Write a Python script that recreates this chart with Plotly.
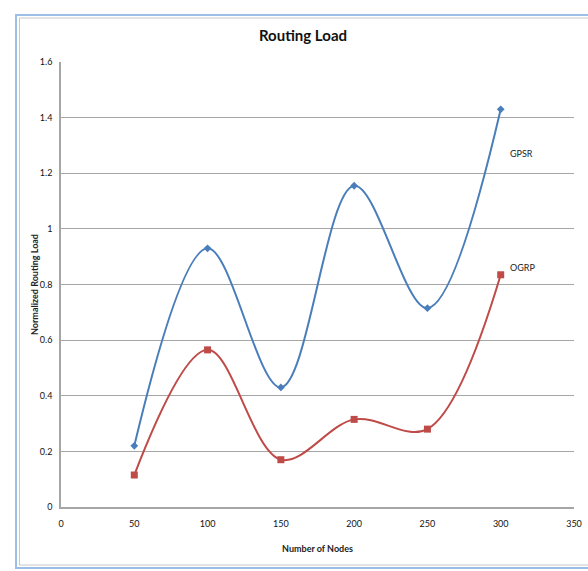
import plotly.graph_objects as go

nodes = [50, 100, 150, 200, 250, 300]
gpsr = [0.22, 0.93, 0.43, 1.155, 0.715, 1.43]
ogrp = [0.115, 0.565, 0.17, 0.315, 0.28, 0.835]
x_ticks = [0, 50, 100, 150, 200, 250, 300, 350]
y_ticks = [0, 0.2, 0.4, 0.6, 0.8, 1.0, 1.2, 1.4, 1.6]
y_tick_text = ["0", "0.2", "0.4", "0.6", "0.8", "1", "1.2", "1.4", "1.6"]

FONT = "Lato, Open Sans, sans-serif"

W, H = 588, 571
SL, SR, ST, SB = 61, 574, 62, 507  # plot area in screen px
l, t = SL, ST
r = W - SR
b = H - SB
pw, ph = W - l - r, H - t - b

def px(x):
    return (x - l) / pw

def py(y):
    return (H - b - y) / ph

fig = go.Figure()
fig.add_trace(go.Scatter(
    x=nodes, y=gpsr, mode="lines+markers", name="GPSR",
    line=dict(color="#4A7EBB", width=2, shape="spline", smoothing=1.0),
    marker=dict(symbol="diamond", size=6, color="#4A7EBB"),
))
fig.add_trace(go.Scatter(
    x=nodes, y=ogrp, mode="lines+markers", name="OGRP",
    line=dict(color="#BE4B48", width=2, shape="spline", smoothing=1.0),
    marker=dict(symbol="square", size=7, color="#BE4B48"),
))

fig.add_annotation(x=305, y=1.27, text="GPSR", showarrow=False, xanchor="left",
                   font=dict(size=9, color="#222", family=FONT))
fig.add_annotation(x=305, y=0.86, text="OGRP", showarrow=False, xanchor="left",
                   font=dict(size=9, color="#222", family=FONT))

fig.add_shape(type="rect", xref="paper", yref="paper",
              x0=px(16), x1=px(600), y0=py(568), y1=py(15),
              line=dict(color="#9DBEE6", width=2), fillcolor="rgba(0,0,0,0)", layer="below")
fig.add_shape(type="rect", xref="paper", yref="paper",
              x0=px(19.5), x1=px(600), y0=py(565), y1=py(18),
              line=dict(color="#C8C8C8", width=1), fillcolor="rgba(0,0,0,0)", layer="below")

fig.update_layout(
    width=W, height=H, autosize=False,
    margin=dict(l=l, r=r, t=t, b=b, autoexpand=False),
    paper_bgcolor="white", plot_bgcolor="white",
    showlegend=False,
    title=dict(text="<b>Routing Load</b>", x=303 / W, xanchor="center",
               y=1 - 36 / H, yanchor="middle",
               font=dict(size=15, color="#111", family=FONT)),
    font=dict(family=FONT, size=9, color="#222"),
    xaxis=dict(range=[0, 350], tickvals=x_ticks, showgrid=False, zeroline=False,
               showline=True, linecolor="#A6A6A6", linewidth=1.5, ticks="", ticklen=0,
               tickfont=dict(size=9, color="#111"), automargin=False, ticklabelstandoff=7,
               title=dict(text="<b>Number of Nodes</b>", font=dict(size=9), standoff=18)),
    yaxis=dict(range=[0, 1.6], tickvals=y_ticks, ticktext=y_tick_text, showgrid=True,
               gridcolor="#A6A6A6", gridwidth=1.2, zeroline=False,
               showline=True, linecolor="#A6A6A6", linewidth=1.5, ticks="",
               tickfont=dict(size=9, color="#111"), automargin=False, ticklabelstandoff=5,
               title=dict(text="<b>Normalized Routing Load</b>", font=dict(size=9), standoff=0)),
)

fig.write_html(
    "out.html",
    config={"responsive": False, "displayModeBar": False},
    post_script="document.body.style.margin='0px';document.body.style.overflow='hidden';",
)
